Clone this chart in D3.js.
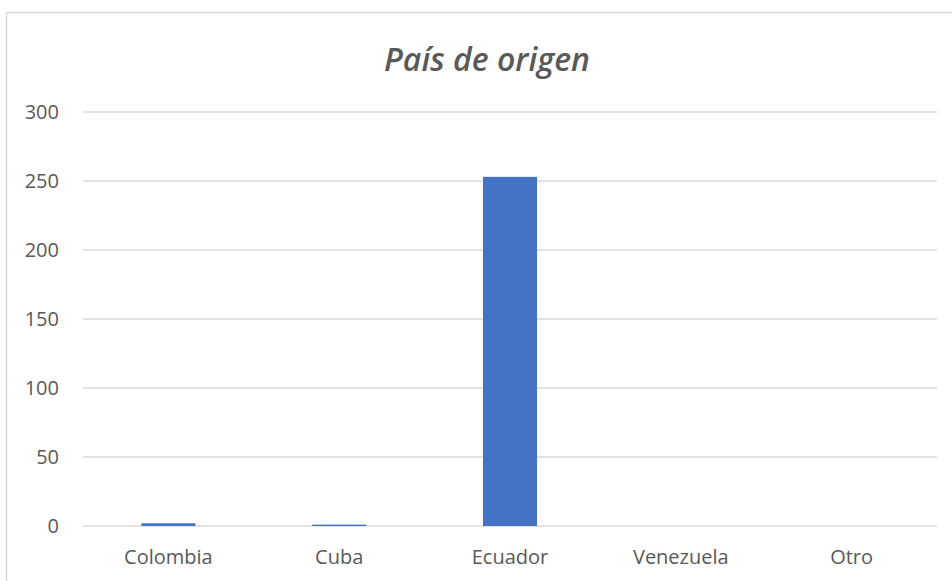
<!DOCTYPE html>
<html><head><meta charset="utf-8">
<script src="https://cdn.jsdelivr.net/npm/d3@7"></script>
<style>body{margin:0;background:#fff;}svg{display:block;}</style>
</head><body>
<script>
const categories = ["Colombia","Cuba","Ecuador","Venezuela","Otro"];
const values = [2, 1, 253, 0, 0];
const yTicks = [0,50,100,150,200,250,300];
const title = "País de origen";

(function () {
const W = 952, H = 581;
const svg = d3.select("body").append("svg").attr("width", W).attr("height", H);
svg.append("rect").attr("width", W).attr("height", H).attr("fill", "#fff");
// chart border (extends beyond right/bottom)
svg.append("rect").attr("x", 6.5).attr("y", 12.5).attr("width", W + 20).attr("height", H + 20)
  .attr("fill", "none").attr("stroke", "#D9D9D9").attr("stroke-width", 1.5);

const mLeft = 83, mRight = 937, mTop = 112, mBottom = 526;
const x = d3.scaleBand().domain(categories).range([mLeft, mRight]).paddingInner(0.684).paddingOuter(0.342);
const y = d3.scaleLinear().domain([0, 300]).range([mBottom, mTop]);

const font = "'Open Sans', sans-serif";
const g = svg.append("g");
g.selectAll("line.grid").data(yTicks).join("line")
  .attr("x1", mLeft).attr("x2", mRight)
  .attr("y1", d => y(d)).attr("y2", d => y(d))
  .attr("stroke", "#D9D9D9").attr("stroke-width", 1.5);

g.selectAll("text.yl").data(yTicks).join("text")
  .attr("x", 59).attr("y", d => y(d)).attr("dy", "0.36em")
  .attr("text-anchor", "end").attr("fill", "#595959")
  .attr("font-family", font).attr("font-size", 20).text(d => d);

g.selectAll("rect.bar").data(values).join("rect")
  .attr("x", (d, i) => x(categories[i])).attr("width", x.bandwidth())
  .attr("y", d => y(d)).attr("height", d => y(0) - y(d))
  .attr("fill", "#4472C4");

g.selectAll("text.xl").data(categories).join("text")
  .attr("x", d => x(d) + x.bandwidth() / 2).attr("y", 564)
  .attr("text-anchor", "middle").attr("fill", "#595959")
  .attr("font-family", font).attr("font-size", 20).text(d => d);

svg.append("text").attr("x", 487).attr("y", 71).attr("text-anchor", "middle")
  .attr("fill", "#595959").attr("font-family", font).attr("font-style", "italic")
  .attr("font-weight", 600).attr("font-size", 32).text(title);
})();
</script>
</body></html>
